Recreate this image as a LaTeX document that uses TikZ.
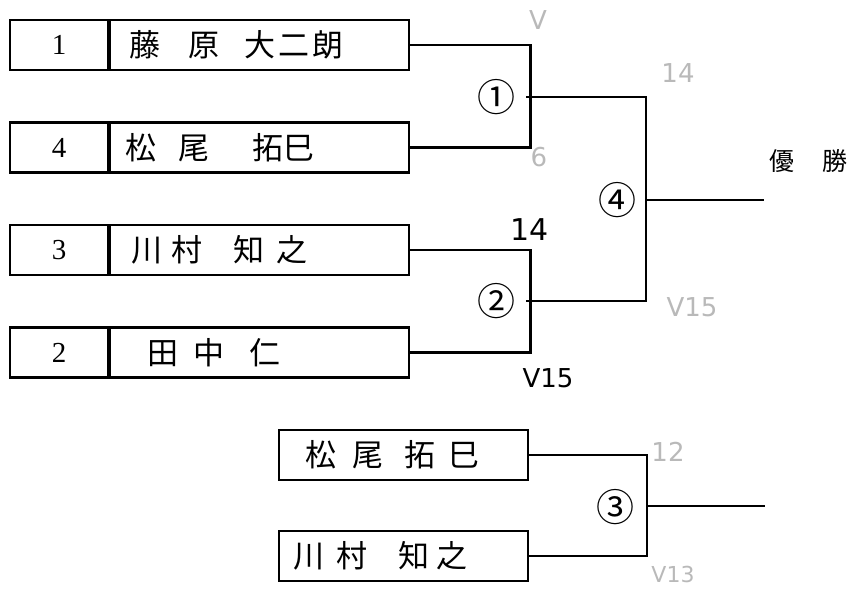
\documentclass[tikz,border=0pt]{standalone}
\usepackage{fontspec}
\setmainfont{Liberation Serif}
\newfontfamily\jp{Noto Sans CJK JP}
\newfontfamily\hand{DejaVu Sans}
\begin{document}
\begin{tikzpicture}[x=1pt,y=-1pt,
  cell/.style={draw,line width=2.2pt,minimum height=50pt,inner sep=0pt,anchor=west},
  numcell/.style={cell,minimum width=98pt,font=\fontsize{29}{29}\selectfont},
  namecell/.style={cell,minimum width=299pt,font=\jp\fontsize{31}{31}\selectfont,text width=285pt,align=left},
  wide/.style={cell,minimum width=249pt,font=\jp\fontsize{31}{31}\selectfont,text width=236pt,align=left},
  wire/.style={line width=2.2pt},
  circ/.style={font=\jp\fontsize{38}{38}\selectfont,inner sep=0pt},
  score/.style={font=\hand\fontsize{26}{26}\selectfont,text=gray!55,inner sep=0pt},
  bscore/.style={font=\hand\fontsize{30}{30}\selectfont,inner sep=0pt}]
\useasboundingbox (0,0) rectangle (849,590);
% first round boxes
\node[numcell] (n1) at (9,45) {1};
\node[namecell] (p1) at (n1.east) {\hspace*{12pt}藤\hspace{0.9em}原\hspace{0.8em}大\hspace{0.1em}二\hspace{0.1em}朗};
\node[numcell] (n4) at (9,147.5) {4};
\node[namecell] (p4) at (n4.east) {\hspace*{8pt}松\hspace{0.7em}尾\hspace{1.4em}拓巳};
\node[numcell] (n3) at (9,250) {3};
\node[namecell] (p3) at (n3.east) {\hspace*{14pt}川\hspace{0.3em}村\hspace{1em}知\hspace{0.4em}之};
\node[numcell] (n2) at (9,352.5) {2};
\node[namecell] (p2) at (n2.east) {\hspace*{30pt}田\hspace{0.5em}中\hspace{0.8em}仁};
% consolation boxes
\node[wide] (q1) at (278,455) {\hspace*{20pt}松\hspace{0.5em}尾\hspace{0.7em}拓\hspace{0.4em}巳};
\node[wide] (q2) at (278,556) {\hspace*{8pt}川\hspace{0.4em}村\hspace{1em}知\hspace{0.2em}之};
% brackets
\draw[wire] (p1.east) -- ++(120,0) coordinate (a1) |- (p4.east);
\coordinate (c1) at (526,97);
\draw[wire] (p3.east) -- ++(120,0) coordinate (a2) |- (p2.east);
\coordinate (c2) at (526,301);
\draw[wire] (c1) -- (646,97) coordinate (a4) |- (c2);
\coordinate (c4) at (646,200);
\coordinate (win) at (764,200);
\draw[wire] (c4) -- (win);
\draw[wire] (q1.east) -- (647,455) coordinate (a3) |- (q2.east);
\coordinate (c3) at (647,506);
\coordinate (win3) at (765,506);
\draw[wire] (c3) -- (win3);
% circled match numbers
\node[circ] (m1) at (496,97) {①};
\node[circ] (m2) at (496,301) {②};
\node[circ] (m4) at (617,200) {④};
\node[circ] (m3) at (615,507) {③};
% champion
\node[font=\jp\fontsize{25}{25}\selectfont] (yu) at (782,161) {優};
\node[font=\jp\fontsize{25}{25}\selectfont] (sho) at (835,161) {勝};
% scores
\node[score] (s1) at (538,20) {V};
\node[score] (s2) at (539,157) {6};
\node[score] (s3) at (678,73) {14};
\node[score] (s4) at (692,307) {V15};
\node[bscore] (s5) at (530,230) {14};
\node[bscore,font=\hand\fontsize{26}{26}\selectfont] (s6) at (548,378) {V15};
\node[score] (s7) at (668,452) {12};
\node[score,font=\hand\fontsize{22}{22}\selectfont] (s8) at (673,574) {V13};
\end{tikzpicture}
\end{document}
